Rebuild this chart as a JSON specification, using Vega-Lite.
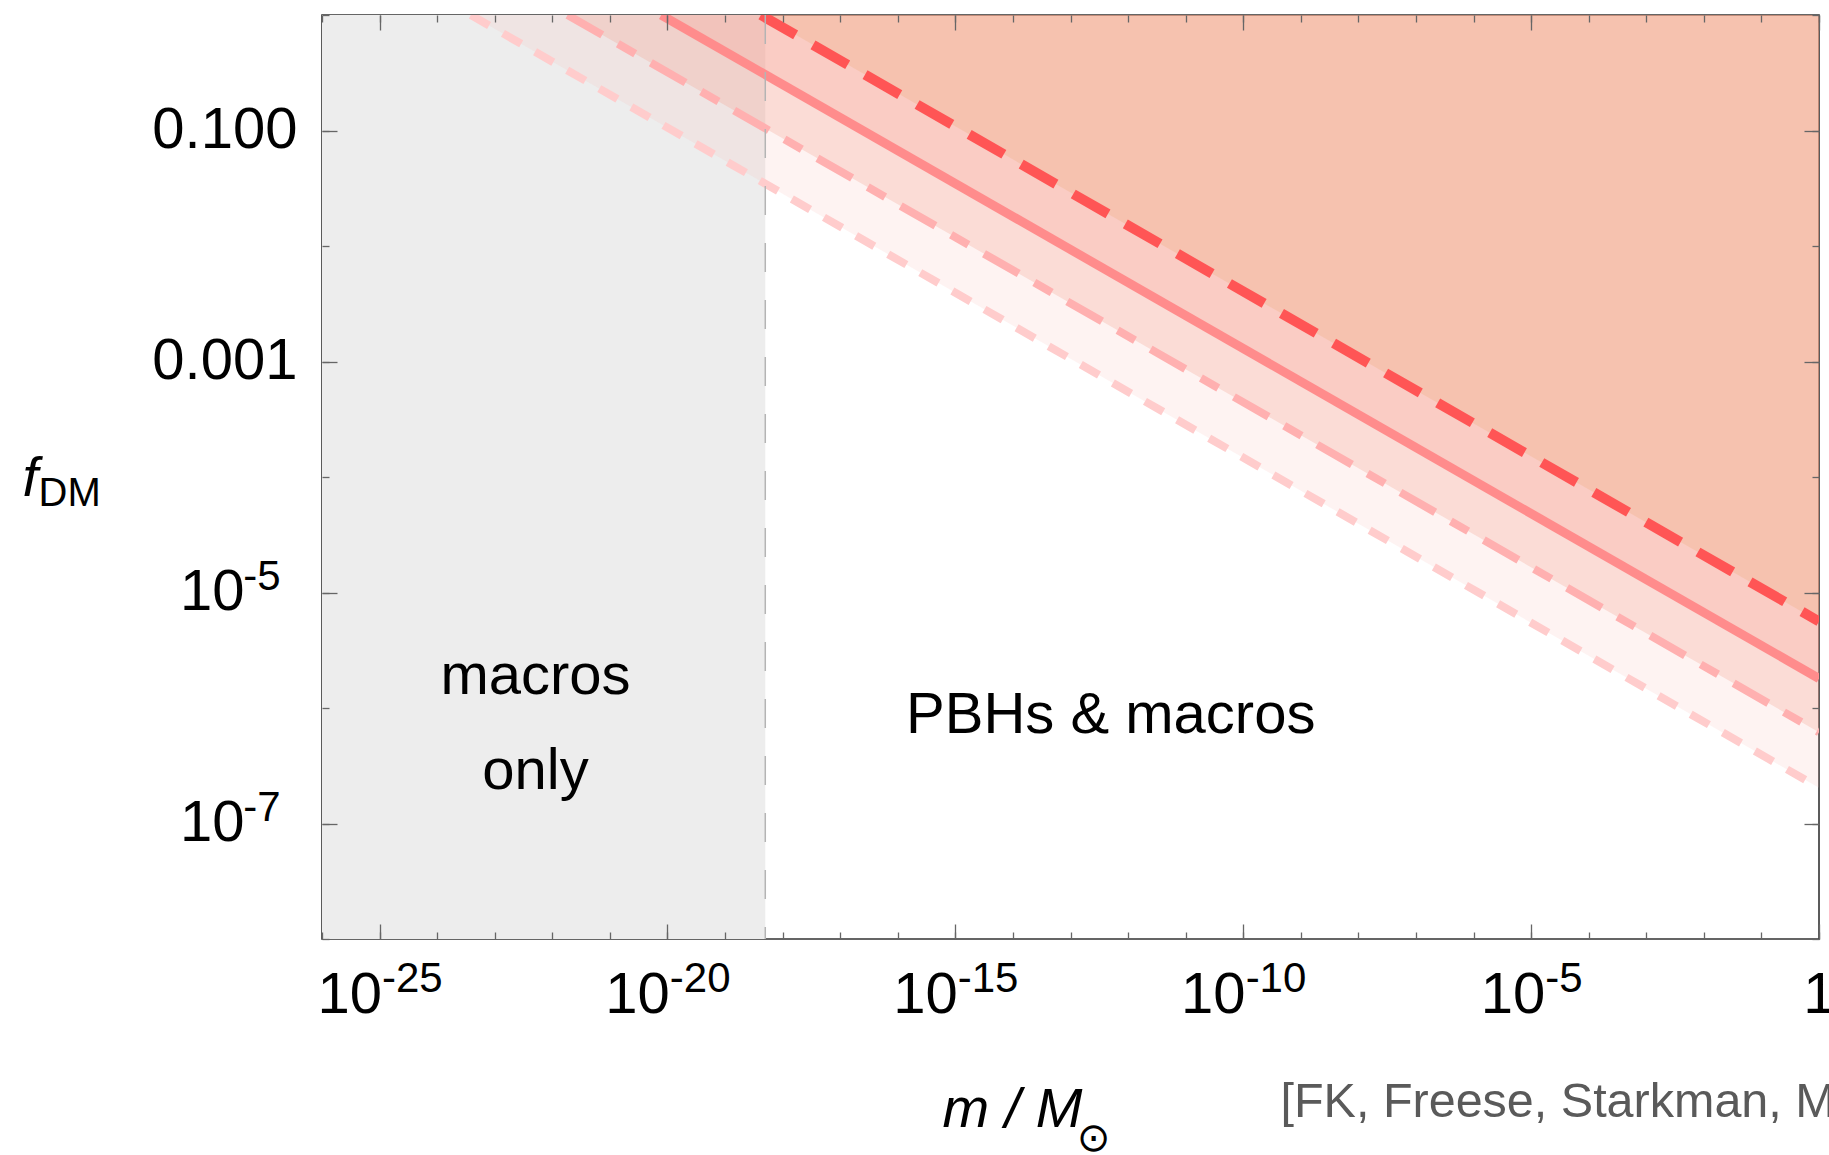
{
  "$schema": "https://vega.github.io/schema/vega-lite/v6.json",
  "width": 1497,
  "height": 924,
  "autosize": {"type": "none"},
  "padding": {"left": 322, "top": 15, "right": 10, "bottom": 216},
  "background": "white",
  "config": {
    "font": "Liberation Sans",
    "view": {"stroke": "#333333", "strokeWidth": 1.6},
    "axis": {"grid": false, "domain": false, "zindex": 1, "labelFlush": false, "labelOverlap": false, "labelBound": false, "tickColor": "#666666", "tickWidth": 1.3, "titleFontWeight": "normal", "labelColor": "black", "titleColor": "black"}
  },
  "datasets": {
    "lines": [
      {"series": "dotted", "m": 3.85e-24, "f": 1},
      {"series": "dotted", "m": 1, "f": 2.04e-7},
      {"series": "dashed", "m": 1.84e-22, "f": 1},
      {"series": "dashed", "m": 1, "f": 6.17e-7},
      {"series": "solid", "m": 7.8e-21, "f": 1},
      {"series": "solid", "m": 1, "f": 1.8e-6},
      {"series": "reddashed", "m": 4.2e-19, "f": 1},
      {"series": "reddashed", "m": 1, "f": 5.62e-6}
    ],
    "region": [{"m": 1e-26, "m2": 5e-19, "f": 1e-8, "f2": 1}],
    "labels": [
      {"label": "macros", "m": 5.1e-23, "f": 1.31e-6},
      {"label": "only", "m": 5.1e-23, "f": 1.98e-7},
      {"label": "PBHs & macros", "m": 5.0e-13, "f": 6.1e-7}
    ]
  },
  "layer": [
    {
      "data": {"name": "region"},
      "mark": {"type": "rect", "fill": "#ededed"},
      "encoding": {
        "x": {"field": "m", "type": "quantitative", "scale": {"type": "log", "domain": [1e-26, 1], "nice": false},
          "axis": {"orient": "bottom", "zindex": 1, "values": [1e-25, 1e-20, 1e-15, 1e-10, 1e-5, 1], "tickSize": -15, "labels": false,
            "title": "m / M", "titleFontStyle": "italic", "titleFontSize": 56, "titleX": 690, "titleY": 187, "titleAlign": "center", "titleBaseline": "alphabetic", "titleAngle": 0}},
        "x2": {"field": "m2"},
        "y": {"field": "f", "type": "quantitative", "scale": {"type": "log", "domain": [1e-8, 1], "nice": false},
          "axis": {"orient": "left", "zindex": 1, "values": [0.1, 0.001, 1e-5, 1e-7], "tickSize": -15,
            "labelExpr": "datum.value > 0.05 ? '0.100' : datum.value > 0.0005 ? '0.001' : ''",
            "labelFontSize": 58, "labelPadding": 40, "labelAlign": "right", "labelBaseline": "middle",
            "title": "f", "titleFontStyle": "italic", "titleFontSize": 56, "titleAngle": 0, "titleX": -300, "titleY": 480, "titleAlign": "left", "titleBaseline": "alphabetic"}},
        "y2": {"field": "f2"}
      }
    },
    {
      "data": {"name": "lines"},
      "transform": [{"filter": "datum.series == 'dotted'"}],
      "mark": {"type": "area", "fill": "rgb(249,183,180)", "opacity": 0.17},
      "encoding": {
        "x": {"field": "m", "type": "quantitative", "scale": {"type": "log", "domain": [1e-26, 1], "nice": false},
          "axis": {"orient": "bottom", "zindex": 1, "values": [1e-26, 1e-25, 1e-24, 1e-23, 1e-22, 1e-21, 1e-20, 1e-19, 1e-18, 1e-17, 1e-16, 1e-15, 1e-14, 1e-13, 1e-12, 1e-11, 1e-10, 1e-9, 1e-8, 1e-7, 1e-6, 1e-5, 1e-4, 1e-3, 1e-2, 1e-1, 1], "tickSize": -7, "labels": false,
            "title": "[FK, Freese, Starkman, M", "titleFontSize": 48.5, "titleColor": "#5a5a5a", "titleX": 958, "titleY": 177, "titleAlign": "left", "titleBaseline": "alphabetic", "titleAngle": 0}},
        "y": {"field": "f", "type": "quantitative", "scale": {"type": "log", "domain": [1e-8, 1], "nice": false},
          "axis": {"orient": "left", "zindex": 1, "values": [1e-8, 1e-7, 1e-6, 1e-5, 1e-4, 1e-3, 1e-2, 1e-1, 1], "tickSize": -7, "labels": false, "title": null}},
        "y2": {"datum": 1}
      }
    },
    {
      "data": {"name": "lines"},
      "transform": [{"filter": "datum.series == 'dashed'"}],
      "mark": {"type": "area", "fill": "rgb(242,151,130)", "opacity": 0.25},
      "encoding": {
        "x": {"field": "m", "type": "quantitative", "scale": {"type": "log", "domain": [1e-26, 1], "nice": false},
          "axis": {"orient": "top", "zindex": 1, "values": [1e-25, 1e-20, 1e-15, 1e-10, 1e-5, 1], "tickSize": -15, "labels": false,
            "title": "⊙", "titleFont": "DejaVu Sans", "titleFontSize": 40, "titleX": 771, "titleY": 1123, "titleAlign": "center", "titleBaseline": "middle", "titleAngle": 0}},
        "y": {"field": "f", "type": "quantitative", "scale": {"type": "log", "domain": [1e-8, 1], "nice": false},
          "axis": {"orient": "right", "zindex": 1, "values": [0.1, 0.001, 1e-5, 1e-7], "tickSize": -15, "labels": false,
            "title": "DM", "titleFontSize": 40, "titleAngle": 0, "titleX": -1781, "titleY": 490, "titleAlign": "left", "titleBaseline": "alphabetic"}},
        "y2": {"datum": 1}
      }
    },
    {
      "data": {"name": "lines"},
      "transform": [{"filter": "datum.series == 'solid'"}],
      "mark": {"type": "area", "fill": "rgb(251,140,124)", "opacity": 0.2},
      "encoding": {
        "x": {"field": "m", "type": "quantitative", "scale": {"type": "log", "domain": [1e-26, 1], "nice": false},
          "axis": {"orient": "top", "zindex": 1, "values": [1e-26, 1e-25, 1e-24, 1e-23, 1e-22, 1e-21, 1e-20, 1e-19, 1e-18, 1e-17, 1e-16, 1e-15, 1e-14, 1e-13, 1e-12, 1e-11, 1e-10, 1e-9, 1e-8, 1e-7, 1e-6, 1e-5, 1e-4, 1e-3, 1e-2, 1e-1, 1], "tickSize": -7, "labels": false, "title": null}},
        "y": {"field": "f", "type": "quantitative", "scale": {"type": "log", "domain": [1e-8, 1], "nice": false},
          "axis": {"orient": "right", "zindex": 1, "values": [1e-8, 1e-7, 1e-6, 1e-5, 1e-4, 1e-3, 1e-2, 1e-1, 1], "tickSize": -7, "labels": false, "title": null}},
        "y2": {"datum": 1}
      }
    },
    {
      "data": {"name": "lines"},
      "transform": [{"filter": "datum.series == 'reddashed'"}],
      "mark": {"type": "area", "fill": "rgb(238,171,126)", "opacity": 0.3},
      "encoding": {
        "x": {"field": "m", "type": "quantitative", "scale": {"type": "log", "domain": [1e-26, 1], "nice": false},
          "axis": {"orient": "bottom", "zindex": 1, "values": [1e-25, 1e-20, 1e-15, 1e-10, 1e-5, 1], "ticks": false, "tickSize": 0,
            "labelExpr": "datum.value > 0.5 ? '1' : '10'", "labelFontSize": 58, "labelPadding": 73, "labelAlign": "right", "labelBaseline": "alphabetic",
            "labelOffset": {"condition": [{"test": "datum.value > 0.5", "value": 16}, {"test": "datum.value > 0.000001", "value": 13.6}], "value": 1.9},
            "title": null}},
        "y": {"field": "f", "type": "quantitative", "scale": {"type": "log", "domain": [1e-8, 1], "nice": false},
          "axis": {"orient": "left", "zindex": 1, "values": [1e-5, 1e-7], "ticks": false, "tickSize": 0, "labelExpr": "'10'", "labelFontSize": 58, "labelPadding": 78, "labelAlign": "right", "labelBaseline": "middle", "title": null}},
        "y2": {"datum": 1}
      }
    },
    {
      "data": {"name": "lines"},
      "transform": [{"filter": "datum.series == 'dotted'"}],
      "mark": {"type": "line", "stroke": "#FFCCCC", "strokeWidth": 8, "strokeDash": [21, 16], "clip": true},
      "encoding": {
        "x": {"field": "m", "type": "quantitative", "scale": {"type": "log", "domain": [1e-26, 1], "nice": false},
          "axis": {"orient": "bottom", "zindex": 1, "values": [1e-25, 1e-20, 1e-15, 1e-10, 1e-5], "ticks": false, "tickSize": 0,
            "labelExpr": "'-' + (-round(log(datum.value)/LN10))", "labelFontSize": 42, "labelPadding": 52, "labelAlign": "left", "labelBaseline": "alphabetic",
            "labelOffset": {"condition": {"test": "datum.value > 0.000001", "value": 13.6}, "value": 1.9},
            "title": null}},
        "y": {"field": "f", "type": "quantitative", "scale": {"type": "log", "domain": [1e-8, 1], "nice": false},
          "axis": {"orient": "left", "zindex": 1, "values": [1e-5, 1e-7], "ticks": false, "tickSize": 0, "labelExpr": "'-' + (-round(log(datum.value)/LN10))", "labelFontSize": 42, "labelPadding": 42, "labelAlign": "right", "labelBaseline": "alphabetic", "labelOffset": -3, "title": null}}
      }
    },
    {
      "data": {"name": "lines"},
      "transform": [{"filter": "datum.series == 'dashed'"}],
      "mark": {"type": "line", "stroke": "#FFB0B0", "strokeWidth": 8, "strokeDash": [40, 18, 20, 18], "clip": true},
      "encoding": {
        "x": {"field": "m", "type": "quantitative", "scale": {"type": "log", "domain": [1e-26, 1], "nice": false}, "axis": null},
        "y": {"field": "f", "type": "quantitative", "scale": {"type": "log", "domain": [1e-8, 1], "nice": false}, "axis": null}
      }
    },
    {
      "data": {"name": "lines"},
      "transform": [{"filter": "datum.series == 'solid'"}],
      "mark": {"type": "line", "stroke": "#FF8C8C", "strokeWidth": 9, "clip": true},
      "encoding": {
        "x": {"field": "m", "type": "quantitative", "scale": {"type": "log", "domain": [1e-26, 1], "nice": false}, "axis": null},
        "y": {"field": "f", "type": "quantitative", "scale": {"type": "log", "domain": [1e-8, 1], "nice": false}, "axis": null}
      }
    },
    {
      "data": {"name": "lines"},
      "transform": [{"filter": "datum.series == 'reddashed'"}],
      "mark": {"type": "line", "stroke": "#FF5555", "strokeWidth": 10, "strokeDash": [40, 20], "clip": true},
      "encoding": {
        "x": {"field": "m", "type": "quantitative", "scale": {"type": "log", "domain": [1e-26, 1], "nice": false}, "axis": null},
        "y": {"field": "f", "type": "quantitative", "scale": {"type": "log", "domain": [1e-8, 1], "nice": false}, "axis": null}
      }
    },
    {
      "data": {"name": "region"},
      "mark": {"type": "rule", "stroke": "#b4b4b4", "strokeWidth": 1.5, "strokeDash": [29, 28]},
      "encoding": {
        "x": {"field": "m2", "type": "quantitative", "scale": {"type": "log", "domain": [1e-26, 1], "nice": false}, "axis": null}
      }
    },
    {
      "data": {"name": "labels"},
      "mark": {"type": "text", "fontSize": 58, "color": "black", "align": "center", "baseline": "alphabetic"},
      "encoding": {
        "x": {"field": "m", "type": "quantitative", "scale": {"type": "log", "domain": [1e-26, 1], "nice": false}, "axis": null},
        "y": {"field": "f", "type": "quantitative", "scale": {"type": "log", "domain": [1e-8, 1], "nice": false}, "axis": null},
        "text": {"field": "label"}
      }
    }
  ],
  "resolve": {"scale": {"x": "shared", "y": "shared"}, "axis": {"x": "independent", "y": "independent"}}
}
